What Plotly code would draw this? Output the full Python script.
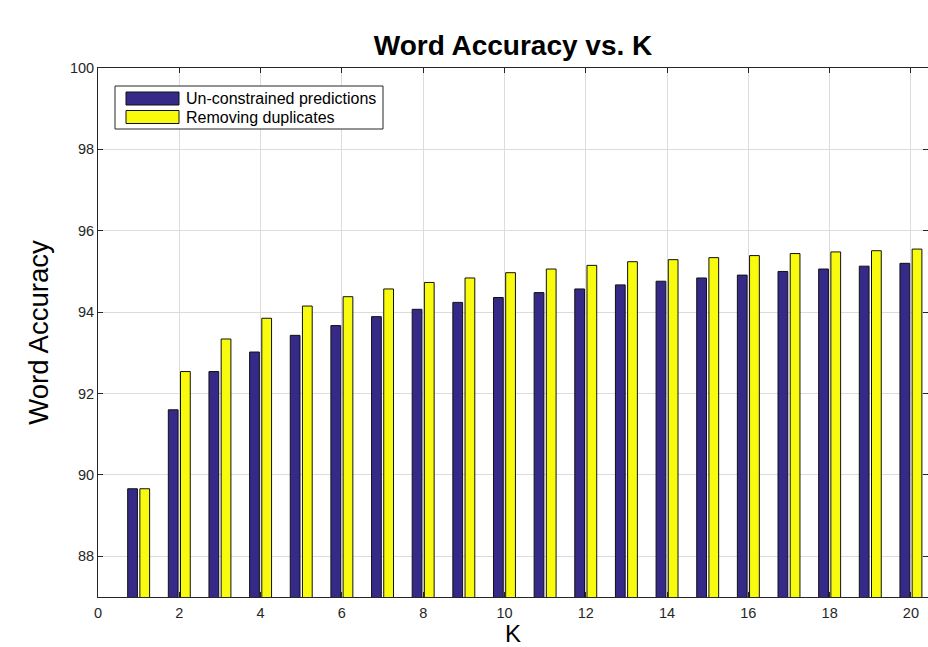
import plotly.graph_objects as go

K = list(range(1, 21))
unconstrained = [89.66, 91.60, 92.54, 93.02, 93.43, 93.67, 93.89, 94.07, 94.24, 94.36,
                 94.48, 94.57, 94.67, 94.76, 94.84, 94.91, 95.00, 95.06, 95.13, 95.20]
dedup = [89.66, 92.54, 93.34, 93.85, 94.15, 94.38, 94.57, 94.73, 94.84, 94.97,
         95.06, 95.15, 95.24, 95.29, 95.34, 95.39, 95.44, 95.48, 95.51, 95.55]
series_names = ["Un-constrained predictions", "Removing duplicates"]
colors = ["#352A87", "#F9FB0E"]
x_ticks = list(range(0, 21, 2))
y_ticks = list(range(88, 101, 2))

W, H = 928, 647
L, R, T, B = 98, 928, 68, 597  # plot area in page pixels
FONT = "Liberation Sans, Arial, Helvetica"

fig = go.Figure()
fig.add_trace(go.Bar(x=K, y=unconstrained, name=series_names[0], width=0.24, offset=-0.27,
                     marker=dict(color=colors[0], line=dict(color="#111111", width=1))))
fig.add_trace(go.Bar(x=K, y=dedup, name=series_names[1], width=0.24, offset=0.03,
                     marker=dict(color=colors[1], line=dict(color="#111111", width=1))))

axis_common = dict(showline=True, linecolor="#262626", linewidth=1, mirror="ticks",
                   ticks="inside", ticklen=5, tickcolor="#262626",
                   showgrid=True, gridcolor="#DCDCDC", gridwidth=1, zeroline=False,
                   tickfont=dict(family=FONT, size=14.5, color="#262626"))

fig.update_layout(
    width=W, height=H,
    margin=dict(l=L, r=W - R, t=T, b=H - B),
    plot_bgcolor="white", paper_bgcolor="white",
    barmode="overlay", showlegend=False,
    title=dict(text="<b>Word Accuracy vs. K</b>", x=513 / W, xanchor="center",
               y=1 - 45 / H, yanchor="middle",
               font=dict(family=FONT, size=28, color="black")),
    xaxis=dict(range=[0, 20.42], tickvals=x_ticks, ticklabelstandoff=3, **axis_common,
               title=dict(text="K", standoff=2,
                          font=dict(family=FONT, size=24, color="black"))),
    yaxis=dict(range=[87, 100], tickvals=y_ticks, **axis_common,
               title=dict(text="Word Accuracy", standoff=13,
                          font=dict(family=FONT, size=27.5, color="black"))),
)

def px(x): return (x - L) / (R - L)
def py(y): return (B - y) / (B - T)

fig.add_shape(type="rect", xref="paper", yref="paper", x0=px(115), x1=px(383), y0=py(129), y1=py(86),
              line=dict(color="#262626", width=1), fillcolor="white")
for i, (name, col) in enumerate(zip(series_names, colors)):
    y0 = 92 + i * 18.5
    fig.add_shape(type="rect", xref="paper", yref="paper", x0=px(126), x1=px(179),
                  y0=py(y0 + 13), y1=py(y0), line=dict(color="#111111", width=1), fillcolor=col)
    fig.add_annotation(xref="paper", yref="paper", x=px(184), y=py(y0 + 6.5), text=name,
                       showarrow=False, xanchor="left", yanchor="middle",
                       font=dict(family=FONT, size=16, color="black"))

fig.write_html("out.html", config={"displayModeBar": False},
               post_script="document.body.style.margin='0';document.body.style.overflow='hidden';")
